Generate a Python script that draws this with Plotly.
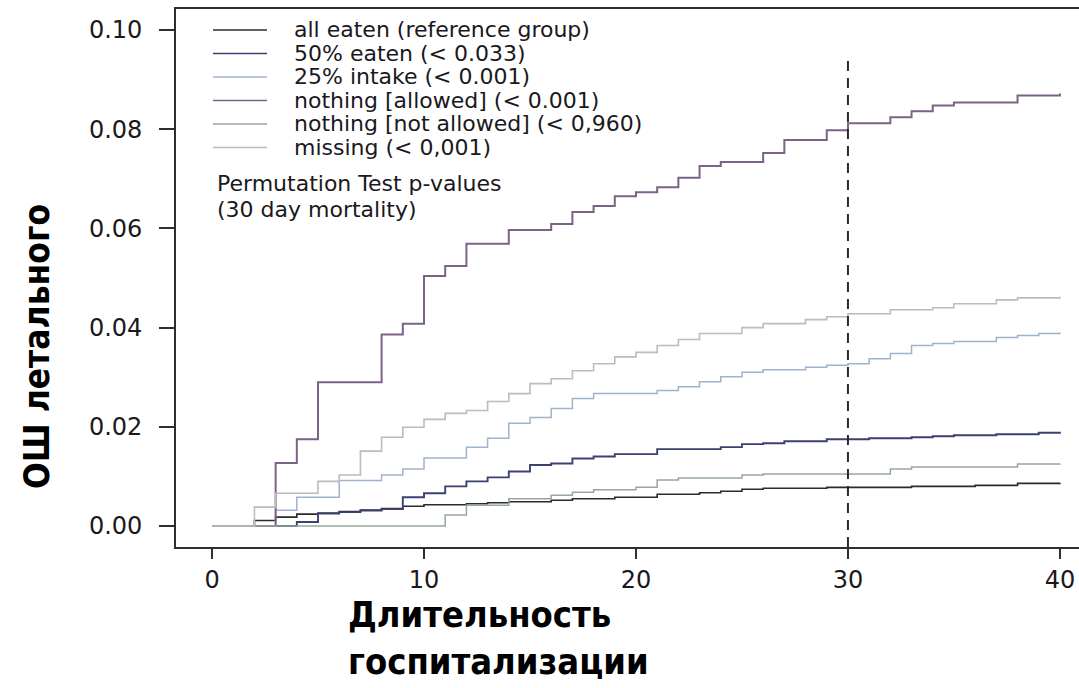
import plotly.graph_objects as go

# ---------------- data ----------------
LABELS = [
    "all eaten (reference group)",
    "50% eaten (< 0.033)",
    "25% intake (< 0.001)",
    "nothing [allowed] (< 0.001)",
    "nothing [not allowed] (< 0,960)",
    "missing (< 0,001)",
]
COLORS = ["#2b2b2b", "#3b4170", "#9fb3cf", "#7a6386", "#96a79f", "#bcbcbc"]
WIDTHS = [1.6, 1.9, 1.5, 2.0, 1.5, 1.6]

days_all = [0, 2, 3, 4, 5, 6, 7, 8, 9, 10, 12, 13, 14, 16, 17, 19, 21, 23, 24, 25, 26, 29, 33, 36, 38, 40]
vals_all = [0, 0.0011, 0.0018, 0.0024, 0.0026, 0.0029, 0.0032, 0.0035, 0.0040, 0.0043, 0.0045, 0.0047,
            0.0049, 0.0052, 0.0055, 0.0058, 0.0064, 0.0067, 0.0070, 0.0074, 0.0076, 0.0078, 0.0080,
            0.0082, 0.0086, 0.0087]

days_50 = [0, 4, 5, 6, 7, 8, 9, 10, 11, 12, 13, 14, 15, 16, 17, 18, 19, 21, 24, 25, 26, 27, 29, 31, 33,
           34, 35, 37, 39, 40]
vals_50 = [0, 0.0008, 0.0025, 0.0028, 0.0031, 0.0034, 0.0058, 0.0066, 0.0080, 0.0090, 0.0098, 0.0110,
           0.0123, 0.0126, 0.0136, 0.0140, 0.0145, 0.0155, 0.0159, 0.0165, 0.0167, 0.0171, 0.0175,
           0.0177, 0.0179, 0.0181, 0.0183, 0.0185, 0.0188, 0.0190]

days_25 = [0, 3, 4, 6, 8, 9, 10, 12, 13, 14, 15, 16, 17, 18, 21, 22, 23, 24, 25, 26, 28, 29, 30, 31, 32,
           33, 34, 35, 37, 38, 39, 40]
vals_25 = [0, 0.0032, 0.0058, 0.0092, 0.0103, 0.0115, 0.0137, 0.0159, 0.0177, 0.0207, 0.0219, 0.0237,
           0.0257, 0.0267, 0.0273, 0.0281, 0.0291, 0.0301, 0.0310, 0.0315, 0.0320, 0.0324, 0.0327,
           0.0337, 0.0348, 0.0364, 0.0368, 0.0372, 0.0380, 0.0384, 0.0388, 0.0390]

days_allowed = [0, 3, 4, 5, 8, 9, 10, 11, 12, 14, 16, 17, 18, 19, 20, 21, 22, 23, 24, 26, 27, 29, 30,
                32, 33, 34, 35, 38, 40]
vals_allowed = [0, 0.0127, 0.0175, 0.0290, 0.0386, 0.0408, 0.0504, 0.0524, 0.0569, 0.0597, 0.0609,
                0.0633, 0.0645, 0.0665, 0.0673, 0.0683, 0.0702, 0.0726, 0.0734, 0.0752, 0.0778, 0.0798,
                0.0812, 0.0824, 0.0836, 0.0848, 0.0854, 0.0868, 0.0872]

days_notallowed = [0, 11, 12, 14, 16, 17, 18, 20, 21, 22, 25, 26, 32, 33, 38, 40]
vals_notallowed = [0, 0.0022, 0.0042, 0.0055, 0.0062, 0.0068, 0.0073, 0.0078, 0.0093, 0.0097, 0.0103,
                   0.0105, 0.0115, 0.0119, 0.0125, 0.0126]

days_missing = [0, 2, 3, 5, 6, 7, 8, 9, 10, 11, 12, 13, 14, 15, 16, 17, 18, 19, 20, 21, 22, 23, 25, 26,
                28, 29, 30, 32, 34, 35, 37, 38, 40]
vals_missing = [0, 0.0038, 0.0066, 0.0090, 0.0103, 0.0151, 0.0179, 0.0199, 0.0215, 0.0227, 0.0233,
                0.0251, 0.0267, 0.0287, 0.0297, 0.0313, 0.0327, 0.0341, 0.0350, 0.0364, 0.0376,
                0.0388, 0.0400, 0.0408, 0.0416, 0.0422, 0.0428, 0.0436, 0.0440, 0.0448, 0.0456,
                0.0460, 0.0462]

SERIES_DAYS = [days_all, days_50, days_25, days_allowed, days_notallowed, days_missing]
SERIES_VALS = [vals_all, vals_50, vals_25, vals_allowed, vals_notallowed, vals_missing]

X_TICKS = [0, 10, 20, 30, 40]
Y_TICKS = [0.00, 0.02, 0.04, 0.06, 0.08, 0.10]
Y_TICKTEXT = ["0.00", "0.02", "0.04", "0.06", "0.08", "0.10"]
X_RANGE = [-1.70, 40.90]
Y_RANGE = [-0.00423, 0.10423]
CUTOFF_DAY = 30
CUTOFF_TOP = 0.0951

NOTE_LINES = ["Permutation Test p-values", "(30 day mortality)"]
X_TITLE = "Длительность<br>госпитализации"
Y_TITLE = "ОШ летального"

# ---------------- layout geometry ----------------
W, H = 1079, 688
ML, MR, MT, MB = 176, 0, 9, 141
PW, PH = W - ML - MR, H - MT - MB


def pxx(px):
    return (px - ML) / PW


def pxy(py):
    return (H - MB - py) / PH


fig = go.Figure()
for name, dx, vy, col, lw in zip(LABELS, SERIES_DAYS, SERIES_VALS, COLORS, WIDTHS):
    fig.add_trace(go.Scatter(x=dx, y=vy, mode="lines", name=name,
                             line=dict(color=col, width=lw, shape="hv"),
                             showlegend=False, hoverinfo="x+y+name"))

shapes = [dict(type="line", xref="x", yref="y", x0=CUTOFF_DAY, x1=CUTOFF_DAY,
               y0=Y_RANGE[0], y1=CUTOFF_TOP,
               line=dict(color="#2a2a2a", width=2, dash="10px,7px"))]
annotations = []

LEG_FONT = dict(family="DejaVu Sans, Liberation Sans, sans-serif", size=22, color="#1a1820")
row_y = [30, 53.5, 77, 100.5, 124, 147.5]
for i, (name, col) in enumerate(zip(LABELS, COLORS)):
    yy = pxy(row_y[i])
    shapes.append(dict(type="line", xref="paper", yref="paper", x0=pxx(213), x1=pxx(267),
                       y0=yy, y1=yy, line=dict(color=col, width=1.6)))
    annotations.append(dict(xref="paper", yref="paper", x=pxx(292), y=yy, text=name,
                            xanchor="left", yanchor="middle", showarrow=False, font=LEG_FONT))

for j, (line, py) in enumerate(zip(NOTE_LINES, [183, 209])):
    annotations.append(dict(xref="paper", yref="paper", x=pxx(215), y=pxy(py), text=line,
                            xanchor="left", yanchor="middle", showarrow=False, font=LEG_FONT))

TITLE_FAMILY = "Liberation Sans Narrow, Arial Narrow, DejaVu Sans Condensed, sans-serif"
annotations.append(dict(xref="paper", yref="paper", x=pxx(37), y=pxy(347), text=Y_TITLE,
                        textangle=-90, xanchor="center", yanchor="middle", showarrow=False,
                        font=dict(family=TITLE_FAMILY, size=35, color="#000000", weight="bold")))
annotations.append(dict(xref="paper", yref="paper", x=pxx(346), y=pxy(638), text=X_TITLE,
                        align="left", xanchor="left", yanchor="middle", showarrow=False,
                        font=dict(family=TITLE_FAMILY, size=36, color="#000000", weight="bold")))

TICK_FONT = dict(family="DejaVu Sans, Liberation Sans, sans-serif", size=24, color="#1a1820")
fig.update_layout(
    width=W, height=H, margin=dict(l=ML, r=MR, t=MT, b=MB, pad=0),
    paper_bgcolor="white", plot_bgcolor="white",
    shapes=shapes, annotations=annotations, showlegend=False,
    xaxis=dict(range=X_RANGE, tickvals=X_TICKS, ticks="outside", ticklen=10, tickwidth=1.6,
               tickcolor="#2e2e2e", showline=True, linecolor="#2e2e2e", linewidth=1.6, mirror=True,
               showgrid=False, zeroline=False, tickfont=TICK_FONT, ticklabelstandoff=0),
    yaxis=dict(range=Y_RANGE, tickvals=Y_TICKS, ticktext=Y_TICKTEXT, ticks="outside", ticklen=15,
               tickwidth=1.6, tickcolor="#2e2e2e", showline=True, linecolor="#2e2e2e", linewidth=1.6,
               mirror=False, showgrid=False, zeroline=False, tickfont=TICK_FONT, ticklabelstandoff=12),
)

fig.write_html("out.html")
